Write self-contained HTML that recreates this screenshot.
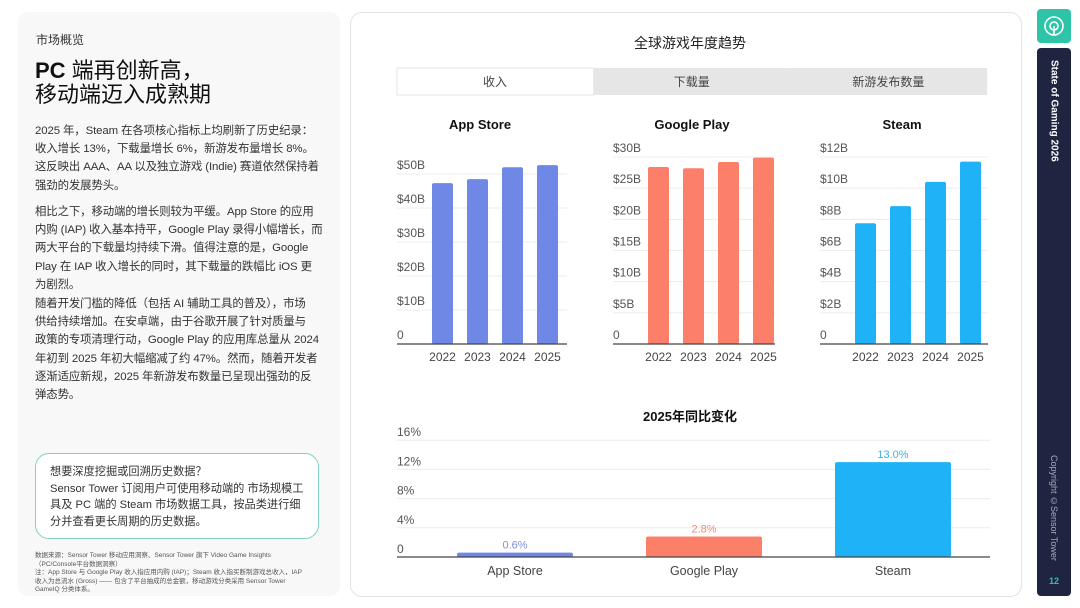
<!DOCTYPE html>
<html><head><meta charset="utf-8">
<style>
html,body{margin:0;padding:0;background:#fff;}
body{width:1080px;height:608px;position:relative;overflow:hidden;font-family:"Liberation Sans","Noto Sans CJK SC",sans-serif;color:#222;}
.left{position:absolute;left:18px;top:12px;width:322px;height:584px;background:#f8f8f9;border-radius:10px;}
.p{position:absolute;left:35px;width:300px;font-size:11.4px;line-height:18.2px;color:#333;white-space:nowrap;letter-spacing:-0.1px;}
.right{position:absolute;left:350px;top:12px;width:670px;height:583px;background:#fff;border:1px solid #e3e3e3;border-radius:12px;}
</style></head><body>
<div class="left"></div>
<div style="position:absolute;left:36px;top:31px;font-size:12px;color:#333;">市场概览</div>
<div style="position:absolute;left:35px;top:59px;font-size:22px;line-height:24px;color:#111;"><b>PC</b> 端再创新高，<br>移动端迈入成熟期</div>
<div class="p" style="top:122px;">2025 年，Steam 在各项核心指标上均刷新了历史纪录：<br>收入增长 13%，下载量增长 6%，新游发布量增长 8%。<br>这反映出 AAA、AA 以及独立游戏 (Indie) 赛道依然保持着<br>强劲的发展势头。</div>
<div class="p" style="top:203px;">相比之下，移动端的增长则较为平缓。App Store 的应用<br>内购 (IAP) 收入基本持平，Google Play 录得小幅增长，而<br>两大平台的下载量均持续下滑。值得注意的是，Google<br>Play 在 IAP 收入增长的同时，其下载量的跌幅比 iOS 更<br>为剧烈。</div>
<div class="p" style="top:295px;">随着开发门槛的降低（包括 AI 辅助工具的普及），市场<br>供给持续增加。在安卓端，由于谷歌开展了针对质量与<br>政策的专项清理行动，Google Play 的应用库总量从 2024<br>年初到 2025 年初大幅缩减了约 47%。然而，随着开发者<br>逐渐适应新规，2025 年新游发布数量已呈现出强劲的反<br>弹态势。</div>
<div style="position:absolute;left:35px;top:453px;width:282px;height:84px;border:1.5px solid #7fd3c0;border-radius:14px;background:#fff;"></div>
<div style="position:absolute;left:50px;top:464px;width:280px;font-size:11.2px;line-height:16.5px;color:#333;white-space:nowrap;">想要深度挖掘或回溯历史数据？<br>Sensor Tower 订阅用户可使用移动端的 市场规模工<br>具及 PC 端的 Steam 市场数据工具，按品类进行细<br>分并查看更长周期的历史数据。</div>
<div style="position:absolute;left:35px;top:552px;width:275px;font-size:6.5px;line-height:8.6px;color:#555;">数据来源：Sensor Tower 移动应用洞察、Sensor Tower 旗下 Video Game Insights（PC/Console平台数据洞察）<br>注：App Store 与 Google Play 收入指应用内购 (IAP)；Steam 收入指买断制游戏总收入，IAP 收入为总流水 (Gross) —— 包含了平台抽成的总金额，移动游戏分类采用 Sensor Tower GameIQ 分类体系。</div>

<div class="right"></div>
<div style="position:absolute;left:1037px;top:9px;width:34px;height:34px;background:#2ec4a7;border-radius:4px;">
<svg width="34" height="34"><circle cx="17" cy="17" r="9" fill="none" stroke="#fff" stroke-width="1.6"/><circle cx="17" cy="17" r="4" fill="none" stroke="#fff" stroke-width="1.6"/><line x1="17" y1="17" x2="17" y2="26" stroke="#fff" stroke-width="1.6"/></svg></div>
<div style="position:absolute;left:1037px;top:48px;width:34px;height:548px;background:#1f2441;border-radius:4px;"></div>
<div style="position:absolute;left:1054px;top:60px;writing-mode:vertical-rl;font-size:10px;font-weight:bold;color:#fff;transform:translateX(-50%);">State of Gaming 2026</div>
<div style="position:absolute;left:1054px;top:455px;writing-mode:vertical-rl;font-size:9px;color:#aab;transform:translateX(-50%);">Copyright ©Sensor Tower</div>
<div style="position:absolute;left:1037px;top:576px;width:34px;text-align:center;font-size:9px;font-weight:bold;color:#2ec4a7;">12</div>

<svg id="chart" width="1080" height="608" style="position:absolute;left:0;top:0;" font-family="Liberation Sans, Noto Sans CJK SC, sans-serif"></svg>
<script>
const years = ['2022','2023','2024','2025'];
const appStore = [47.3, 48.5, 52.0, 52.6];
const googlePlay = [28.4, 28.2, 29.2, 29.9];
const steam = [7.75, 8.85, 10.4, 11.7];
const appTicks = [0,10,20,30,40,50];
const gpTicks = [0,5,10,15,20,25,30];
const steamTicks = [0,2,4,6,8,10,12];
const yoyCats = ['App Store','Google Play','Steam'];
const yoyValues = [0.6, 2.8, 13.0];
const yoyTicks = [0,4,8,12,16];
const tabs = ['收入','下载量','新游发布数量'];

const svg = document.getElementById('chart');
const NS = 'http://www.w3.org/2000/svg';
function mk(tag, attrs, parent){const e=document.createElementNS(NS,tag);for(const k in attrs)e.setAttribute(k,attrs[k]);(parent||svg).appendChild(e);return e;}
function txt(x,y,s,attrs){const e=mk('text',Object.assign({x:x,y:y},attrs||{}));e.textContent=s;return e;}

txt(690,48,'全球游戏年度趋势',{'text-anchor':'middle','font-size':14,fill:'#222'});
tabs.forEach((t,i)=>{
  const r=mk('rect',{x:397+i*196.7,y:68,width:196.7,height:27,fill:i===0?'#fff':'#e6e6e6',stroke:i===0?'#e6e6e6':'none'});
  
  
  txt(397+i*196.7+98,86,t,{'text-anchor':'middle','font-size':12,fill:'#444'});
});

function panel(name,title,cx,vals,ticks,maxV,color,fmt,axisX0,axisX1,barX0){
  const base=344, top=157;
  const y=v=>base-(v/maxV)*(base-top);
  const t=txt(cx,129,title,{'text-anchor':'middle','font-size':13,'font-weight':'bold',fill:'#111'});
  
  ticks.forEach(v=>{
    if(v>0){const g=mk('line',{x1:axisX0,x2:axisX1,y1:y(v),y2:y(v),stroke:'#ececec'});}
    const l=txt(axisX0,y(v)-5,fmt(v),{'font-size':12,fill:'#555'});
    
  });
  vals.forEach((v,i)=>{
    const x=barX0+i*35;
    const b=mk('rect',{x:x,y:y(v),width:21,height:base-y(v),fill:color,rx:2});
    
    
    txt(x+10.5,361,years[i],{'text-anchor':'middle','font-size':12,fill:'#444'});
  });
  mk('line',{x1:axisX0,x2:axisX1,y1:base,y2:base,stroke:'#444','stroke-width':1.2});
}
panel('app-store','App Store',480,appStore,appTicks,55,'#6f87e5',v=>v?'$'+v+'B':'0',397,567,432);
panel('google-play','Google Play',692,googlePlay,gpTicks,30,'#fb7f69',v=>v?'$'+v+'B':'0',613,775,648);
panel('steam','Steam',902,steam,steamTicks,12,'#1fb2f6',v=>v?'$'+v+'B':'0',820,988,855);

const yb=557, ysc=7.3;
const yy=v=>yb-v*ysc;
txt(690,421,'2025年同比变化',{'text-anchor':'middle','font-size':13,'font-weight':'bold',fill:'#111'});
yoyTicks.forEach(v=>{
  if(v>0){const g=mk('line',{x1:397,x2:990,y1:yy(v),y2:yy(v),stroke:'#ececec'});}
  const l=txt(397,yy(v)-4,v?v+'%':'0',{'font-size':12,fill:'#555'});
  
});
const yoyColors=['#6f87e5','#fb7f69','#1fb2f6'];
const yoyLabelColors=['#7f8fd6','#f08a74','#3ab0e0'];
yoyValues.forEach((v,i)=>{
  const x=457+i*189;
  const b=mk('rect',{x:x,y:yy(v),width:116,height:yb-yy(v),fill:yoyColors[i],rx:2});
  
  
  const l=txt(x+58,yy(v)-4,v.toFixed(1)+'%',{'text-anchor':'middle','font-size':11,fill:yoyLabelColors[i]});
  
  const c=txt(x+58,575,yoyCats[i],{'text-anchor':'middle','font-size':12.5,fill:'#444'});
  
});
mk('line',{x1:397,x2:990,y1:yb,y2:yb,stroke:'#444','stroke-width':1.2});
</script>
</body></html>
